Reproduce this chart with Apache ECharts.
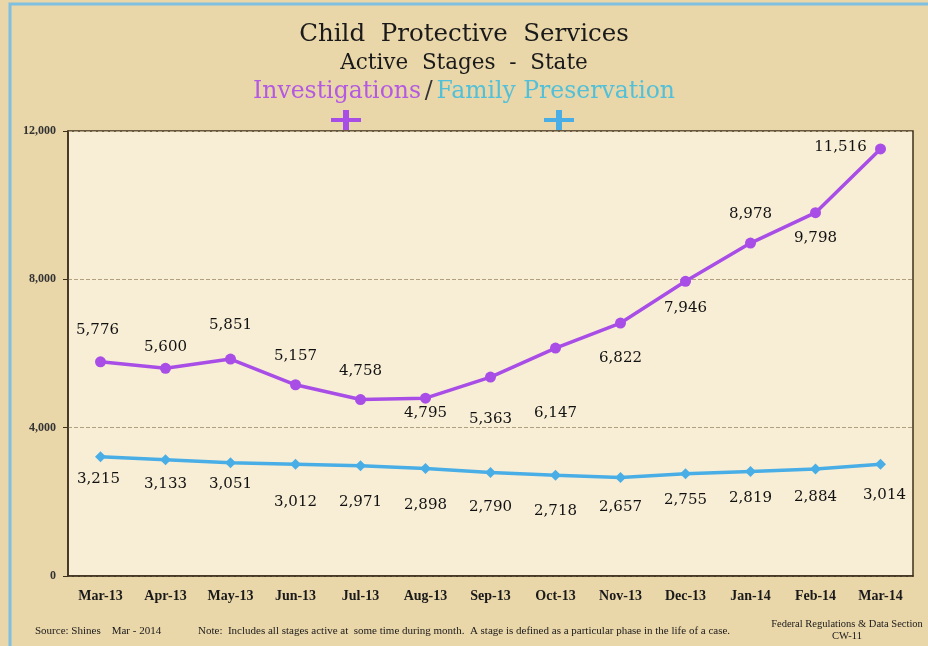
<!DOCTYPE html>
<html><head><meta charset="utf-8">
<script src="https://cdn.jsdelivr.net/npm/echarts@6/dist/echarts.min.js"></script>
<style>html,body{margin:0;padding:0;background:#e9d6a9}#c{width:928px;height:646px}</style>
</head><body><div id="c"></div>
<script>
const categories = ['Mar-13','Apr-13','May-13','Jun-13','Jul-13','Aug-13','Sep-13','Oct-13','Nov-13','Dec-13','Jan-14','Feb-14','Mar-14'];
const investigations = [5776,5600,5851,5157,4758,4795,5363,6147,6822,7946,8978,9798,11516];
const familyPreservation = [3215,3133,3051,3012,2971,2898,2790,2718,2657,2755,2819,2884,3014];
const yTicks = [0,4000,8000,12000];

// label placement (styling only)
const invLabelOffsets = [[-3,-32],[0,-21],[0,-34],[0,-29],[0,-28],[0,15],[0,42],[0,65],[0,35],[0,27],[0,-29],[0,25],[-40,-2]];
const fpLabelOffsets = [[-2,22],[0,24],[0,21],[0,38],[0,36],[0,37],[0,35],[0,36],[0,30],[0,26],[0,27],[0,28],[4,31]];

const fmt = v => v.toLocaleString('en-US');
const serif = '"Liberation Serif","DejaVu Serif",serif';
const wserif = '"DejaVu Serif","Liberation Serif",serif';
const purple = '#a84ee6', blue = '#4aaee6';
const cross = 'path://M0,8 L12,8 L12,0 L18,0 L18,8 L30,8 L30,12 L18,12 L18,20 L12,20 L12,12 L0,12 Z';

const chart = echarts.init(document.getElementById('c'));
chart.setOption({
  backgroundColor: '#e9d6a9',
  animation: false,
  title: {
    left: 'center', top: 17,
    text: 'Child  Protective  Services',
    textStyle: {fontFamily: wserif, fontSize: 24.5, fontWeight: 'normal', color: '#1a1a1a'},
    subtext: '{a|Active  Stages  -  State}\n{p|Investigations} {s|/} {b|Family Preservation}',
    subtextStyle: {
      fontFamily: wserif, lineHeight: 28,
      rich: {
        a: {fontFamily: wserif, fontSize: 21.5, color: '#1a1a1a', lineHeight: 29},
        p: {fontFamily: wserif, fontSize: 23.5, color: '#b45ae2', lineHeight: 27},
        s: {fontFamily: wserif, fontSize: 23.5, color: '#333', lineHeight: 27},
        b: {fontFamily: wserif, fontSize: 23.5, color: '#52c0d8', lineHeight: 27}
      }
    },
    itemGap: 2
  },
  legend: {
    left: 326, top: 105,
    itemWidth: 30, itemHeight: 20, itemGap: 183,
    formatter: () => '',
    data: [
      {name: 'Investigations', icon: cross, itemStyle: {color: purple}},
      {name: 'Family Preservation', icon: cross, itemStyle: {color: blue}}
    ]
  },
  grid: {left: 68, right: 15, top: 131, bottom: 70, show: true, backgroundColor: '#f8eed6', borderColor: '#3d2f1c', borderWidth: 1.5},
  xAxis: {
    type: 'category', data: categories, boundaryGap: true,
    axisLine: {lineStyle: {color: '#3d2f1c', width: 1.5}},
    axisTick: {show: false},
    axisLabel: {fontFamily: serif, fontSize: 14, fontWeight: 'bold', color: '#1a1a1a', margin: 13}
  },
  yAxis: {
    type: 'value', min: 0, max: 12000, interval: 4000,
    axisLine: {show: true, lineStyle: {color: '#3d2f1c', width: 1.5}},
    axisTick: {show: true, length: 5, lineStyle: {color: '#3d2f1c'}},
    axisLabel: {fontFamily: serif, fontSize: 12, fontWeight: 'bold', color: '#333', margin: 12, formatter: v => yTicks.includes(v) ? fmt(v) : ''},
    splitLine: {show: true, lineStyle: {color: '#b0a080', type: 'dashed', width: 1}}
  },
  series: [
    {
      name: 'Investigations', type: 'line',
      data: investigations.map((v,i) => ({value: v, label: {offset: invLabelOffsets[i]}})),
      symbol: 'circle', symbolSize: 11,
      lineStyle: {color: purple, width: 3.5},
      itemStyle: {color: purple},
      label: {show: true, position: 'inside', fontFamily: wserif, fontSize: 15, color: '#111', formatter: p => fmt(p.value)}
    },
    {
      name: 'Family Preservation', type: 'line',
      data: familyPreservation.map((v,i) => ({value: v, label: {offset: fpLabelOffsets[i]}})),
      symbol: 'diamond', symbolSize: 11,
      lineStyle: {color: blue, width: 3.5},
      itemStyle: {color: blue},
      label: {show: true, position: 'inside', fontFamily: wserif, fontSize: 15, color: '#111', formatter: p => fmt(p.value)}
    }
  ],
  graphic: [
    {type: 'rect', shape: {x: 10, y: 4, width: 930, height: 660}, style: {fill: 'none', stroke: '#7fbfe0', lineWidth: 3}, silent: true},
    {type: 'text', left: 35, top: 626, style: {text: 'Source: Shines    Mar - 2014', fontFamily: serif, fontSize: 11, fill: '#1a1a1a'}},
    {type: 'text', left: 198, top: 626, style: {text: 'Note:  Includes all stages active at  some time during month.  A stage is defined as a particular phase in the life of a case.', fontFamily: serif, fontSize: 11, fill: '#1a1a1a'}},
    {type: 'text', x: 847, y: 619, style: {text: 'Federal Regulations & Data Section', fontFamily: serif, fontSize: 10.5, fill: '#1a1a1a', textAlign: 'center'}},
    {type: 'text', x: 847, y: 631, style: {text: 'CW-11', fontFamily: serif, fontSize: 10.5, fill: '#1a1a1a', textAlign: 'center'}}
  ]
});
</script></body></html>
